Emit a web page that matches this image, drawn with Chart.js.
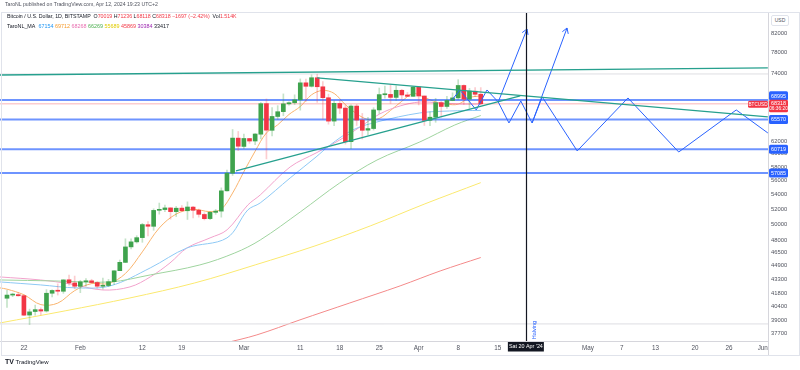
<!DOCTYPE html>
<html>
<head>
<meta charset="utf-8">
<script src="https://cdn.jsdelivr.net/npm/chart.js@4.4.1/dist/chart.umd.min.js"></script>
<style>
body { margin: 0; background: #fff; font-family: "Liberation Sans", Arial, sans-serif; }
#wrap { position: relative; width: 800px; height: 370px; overflow: hidden; }
#c { position: absolute; left: 0; top: 0; }
.t { position: absolute; white-space: nowrap; color: #131722; line-height: 1; }
.frame { position: absolute; left: 1px; top: 12px; width: 797px; height: 342px; border: 1px solid #e0e3eb; pointer-events: none; }
.usd { left: 771px; top: 15px; width: 16px; height: 9px; border: 1px solid #e0e3eb; border-radius: 2px; font-size: 5px; color: #50535e; text-align: center; line-height: 9px; background: #fff; }
</style>
</head>
<body>
<div id="wrap">
  <canvas id="c" width="800" height="370"></canvas>
  <div class="frame"></div>
  <div class="t" style="left:5px;top:2px;font-size:5.2px;color:#50535e">TaroNL published on TradingView.com, Apr 12, 2024 19:23 UTC+2</div>
  <div class="t" id="ohlc" style="left:7px;top:14px;font-size:5.25px"></div>
  <div class="t" id="malegend" style="left:7px;top:23.5px;font-size:5.4px"></div>
  <div class="t usd">USD</div>
  <div class="t" style="left:5px;top:358px;font-size:6px;color:#131722"><b style="font-size:7px">TV</b> TradingView</div>
</div>
<script>
// daily candles BTCUSD, day 0 = Jan 19 2024 ... day 84 = Apr 12 2024
var opens = [41278,41618,41665,41553,39519,39881,40075,39937,41815,42127,42030,43300,42946,
  42569,43077,43184,42994,42577,42657,43090,44332,45297,47153,47768,48297,49941,49734,51837,51937,52161,51661,52134,51779,52273,51854,51283,50737,51566,51730,54520,57071,62499,
  61168,62431,62031,63137,68341,63776,66100,66938,68299,68500,69020,72125,71483,73079,71388,69392,65317,68372,67556,61930,67911,65489,63802,64070,67234,69931,69992,69452,70744,69893,69647,
  71333,69705,65447,65975,68515,67840,68897,69362,71632,69140,70575,70019];
var highs = [42134,41819,41873,41651,40130,40555,40254,42209,42195,42842,43305,43838,43718,
  43244,43422,43359,43097,43494,43344,44341,45575,48152,48146,48535,50119,50358,52043,52820,52537,52191,52357,52485,52987,52372,52009,51499,51684,51950,54939,57537,63913,63585,
  63155,62458,63230,68537,69170,67637,67985,70083,68673,69916,72850,72825,73637,73750,72358,70044,68845,68898,68106,68115,68199,66623,65976,67622,71163,71535,71727,71546,70914,70355,71377,
  71342,69708,66914,69291,68725,69629,70284,72716,71742,71093,71256,71236];
var lows = [40297,41446,41500,39450,38555,39495,39545,39825,41431,41621,41805,42712,42298,
  41879,42585,42891,42374,42264,42529,42775,44332,45261,46906,47617,47714,48511,49226,51328,51641,50669,51010,51716,50626,50830,50926,50561,50586,51304,50931,54484,56738,60498,
  60802,61657,61435,62387,59224,62849,65602,66230,68054,68189,67194,68728,71335,68563,65630,64801,64545,66595,61536,60807,64581,62355,63038,63826,66615,69336,68381,68895,69076,69601,69624,
  68110,64586,64559,65113,66011,67492,68852,69040,68212,67503,69571,68118];
var closes = [41618,41665,41545,39508,39845,40077,39933,41816,42120,42035,43288,42952,42582,
  43075,43185,42992,42583,42658,43084,44318,45302,47147,47771,48293,49958,49742,51826,51938,52160,51663,52122,51780,52284,51839,51304,50731,51571,51733,54522,57085,62504,61198,
  62440,62029,63168,68330,63801,66106,66925,68300,68498,69019,72123,71481,73084,71396,69403,65315,68390,67548,61912,67913,65491,63778,64062,67234,69958,69987,69455,70744,69892,69645,71333,
  69702,65446,65980,68508,67837,68896,69362,71632,69139,70587,70015,68318];
var volume = '1.514K';

// moving averages (day, price)
var maOrangeDays = [-1.24,0,3,6,9,12,15,18,21,24,27,30,33,36,38,40,42,44,46,48,50,52,54,56,58,60,62,64,66,68,70,72,74,76,78,80,82,84];
var maOrangeVals = [42400,42260,41650,40600,40760,42100,42870,42880,44010,46550,49520,51340,51970,51660,52000,54210,57290,60420,63350,64690,66450,67830,69920,70720,70170,68150,66570,65590,65760,67140,68760,70150,69460,68640,68240,68240,69420,69712];
var maPinkDays = [-1.24,5.9,11.2,17,21.8,25.4,28.9,31.9,36,39,42.7,44.9,50.2,54.8,59,62.6,66.1,69.7,73.2,76.8,80.3,84];
var maPinkVals = [43620,43280,42840,42170,42510,43620,45230,47020,48260,49270,52560,53940,58000,60140,62200,64330,66540,67930,68630,68450,68270,68268];
var maBlueDays = [-1.24,5.9,12.4,18.3,25.4,31.9,39,42.7,44.9,50.2,54.8,57.3,61.3,65.6,73.2,78.5,84];
var maBlueVals = [43060,42730,42400,42620,44650,47020,48260,51890,52840,56370,59520,61400,63830,65170,66710,67050,67154];
var maGreenDays = [-1.24,8.5,18.3,25.4,34.2,40.4,44.9,52,59,65.6,73.2,79.4,84];
var maGreenVals = [43280,43170,43060,43850,45000,46420,48000,51620,55650,59050,61880,64660,66269];
var maYellowDays = [-1.24,10.3,21.8,33.3,44,54.6,64.4,74.1,84];
var maYellowVals = [38720,39950,41310,42950,45000,47270,49780,52710,55689];
var maRedDays = [38.65,44.3,51.95,60.8,69.7,76.8,84];
var maRedVals = [36750,37540,39030,40780,42620,44300,45869];
var maLegend = [67154, 69712, 68268, 66269, 55689, 45869, 30384, 33417];

// drawings
var levelPrices = [68995, 65570, 60719, 57085];
var grayLevels = [73800, 38620];
var tealFlatDays = [-1.24, 134.9], tealFlatVals = [73600, 74970];
var tealTopDays = [55.0, 134.9], tealTopVals = [73050, 66020];
var tealRiseDays = [40.6, 91.0], tealRiseVals = [57400, 69710];
var zigDays = [78.9,80.3,83.2,85.1,87.1,89.0,91.1,93.1,94.9,101.1,110.1,119.1,129.3,134.9];
var zigVals = [68990,70800,67230,70800,68630,65000,68810,65000,69530,60460,69350,60290,67230,63340];
var arrow1Days = [87.1, 92.2], arrow1Vals = [68630, 82920];
var arrow2Days = [93.1, 99.3], arrow2Vals = [65000, 83130];
var halvingDay = 92;
var halvingLabel = "Sat 20 Apr '24";

// axes
var xMin = -1.24, xMax = 134.93;
var yMin = 36950, yMax = 86650;
var xTickDays = [3,13,24,31,42,52,59,66,73,80,87,103,109,115,122,128,134];
var xTickLabels = ['22','Feb','12','19','Mar','11','18','25','Apr','8','15','May','7','13','20','26','Jun'];
var yTicks = [82000,78000,74000,70000,66000,62000,60000,58000,56000,54000,52000,50000,48000,46500,44900,43300,41800,40400,39000,37700];

var FONT = '"Liberation Sans", Arial, sans-serif';
Chart.defaults.font.family = FONT;

var last = closes.length - 1;
var lastPrice = closes[last];

// header text
var chg = lastPrice - closes[last - 1];
var pct = chg / closes[last - 1] * 100;
function red(s) { return '<span style="color:#f23645">' + s + '</span>'; }
function sgn(v, d) { return (v < 0 ? '\u2212' : '+') + Math.abs(v).toFixed(d); }
document.getElementById('ohlc').innerHTML = 'Bitcoin / U.S. Dollar, 1D, BITSTAMP&nbsp; O' + red(opens[last]) +
  ' H' + red(highs[last]) + ' L' + red(lows[last]) + ' C' + red(lastPrice) + ' ' +
  red(sgn(chg, 0) + ' (' + sgn(pct, 2) + '%)') + '&nbsp; Vol' + red(volume);
var legendColors = ['#2196f3','#f59a2b','#e86fb0','#4caf50','#e0cc00','#f23645','#9c27b0','#131722'];
document.getElementById('malegend').innerHTML = 'TaroNL_MA&nbsp; ' + maLegend.map(function(v, k) {
  return '<span style="color:' + legendColors[k] + '">' + v + '</span>';
}).join(' ');

function pts(days, vals) { return days.map(function(d, k) { return {x: d, y: vals[k]}; }); }
function lineDs(days, vals, color, width, order, smooth) {
  return {type: 'line', data: pts(days, vals), borderColor: color, borderWidth: width,
    pointRadius: 0, fill: false, tension: smooth ? 0.35 : 0, order: order};
}
function hLine(p, color, width, order) {
  return lineDs([xMin, xMax], [p, p], color, width, order, false);
}

var up = closes.map(function(c, k) { return c >= opens[k]; });
var datasets = [
  {type: 'bar', data: closes.map(function(c, k) { return {x: k, y: [opens[k], c]}; }),
   backgroundColor: up.map(function(u) { return u ? '#3fa34d' : '#f23645'; }),
   barThickness: 4, grouped: false, minBarLength: 1, order: 1},
  {type: 'bar', data: lows.map(function(l, k) { return {x: k, y: [l, highs[k]]}; }),
   backgroundColor: up.map(function(u) { return u ? 'rgba(63,163,77,0.3)' : 'rgba(242,54,69,0.25)'; }),
   barThickness: 1, grouped: false, order: 2},
  lineDs(maYellowDays, maYellowVals, '#fbe96f', 1, 4, true),
  lineDs(maRedDays, maRedVals, '#f48a8a', 1, 4, true),
  lineDs(maGreenDays, maGreenVals, '#9fd49f', 1, 4, true),
  lineDs(maBlueDays, maBlueVals, '#8ec9f5', 1, 4, true),
  lineDs(maPinkDays, maPinkVals, '#f2a2cc', 1, 4, true),
  lineDs(maOrangeDays, maOrangeVals, '#f9b46e', 1, 4, true),
  hLine(lastPrice, 'rgba(242,54,69,0.25)', 1.5, 3)
];
grayLevels.forEach(function(p) { datasets.push(hLine(p, '#dedee3', 1, 3)); });
levelPrices.forEach(function(p) { datasets.push(hLine(p, 'rgba(41,98,255,0.68)', 2, 3)); });
datasets.push(lineDs(tealFlatDays, tealFlatVals, '#26a08e', 1.3, 0, false));
datasets.push(lineDs(tealTopDays, tealTopVals, '#26a08e', 1.3, 0, false));
datasets.push(lineDs(tealRiseDays, tealRiseVals, '#26a08e', 1.3, 0, false));
datasets.push(lineDs(zigDays, zigVals, '#2962ff', 1, 0, false));
var a1 = lineDs(arrow1Days, arrow1Vals, '#2962ff', 1, 0, false); a1.arrow = true; datasets.push(a1);
var a2 = lineDs(arrow2Days, arrow2Vals, '#2962ff', 1, 0, false); a2.arrow = true; datasets.push(a2);

function box(ctx, x, y, w, h, bg) {
  ctx.fillStyle = bg;
  ctx.beginPath();
  if (ctx.roundRect) ctx.roundRect(x, y, w, h, 1.5); else ctx.rect(x, y, w, h);
  ctx.fill();
}

var overlay = {
  id: 'overlay',
  afterDatasetsDraw: function(chart) {
    var ctx = chart.ctx, xs = chart.scales.x, area = chart.chartArea;
    ctx.save();
    // arrowheads
    chart.data.datasets.forEach(function(ds, k) {
      if (!ds.arrow) return;
      var p = chart.getDatasetMeta(k).data;
      var a = p[p.length - 2], b = p[p.length - 1];
      var ang = Math.atan2(b.y - a.y, b.x - a.x);
      ctx.strokeStyle = ds.borderColor; ctx.lineWidth = 1;
      ctx.beginPath();
      [-0.55, 0.55].forEach(function(d) {
        ctx.moveTo(b.x, b.y);
        ctx.lineTo(b.x - 6 * Math.cos(ang + d), b.y - 6 * Math.sin(ang + d));
      });
      ctx.stroke();
    });
    // halving marker
    var hx = Math.round(xs.getPixelForValue(halvingDay)) + 0.5;
    ctx.strokeStyle = '#131722'; ctx.lineWidth = 1.2;
    ctx.beginPath(); ctx.moveTo(hx, area.top); ctx.lineTo(hx, area.bottom); ctx.stroke();
    ctx.translate(hx + 8, area.bottom - 11);
    ctx.rotate(-Math.PI / 2);
    ctx.fillStyle = '#2962ff'; ctx.font = '5.5px ' + FONT;
    ctx.textAlign = 'center'; ctx.textBaseline = 'middle';
    ctx.fillText('Halving', 0, 0);
    ctx.restore();
  },
  afterDraw: function(chart) {
    var ctx = chart.ctx, xs = chart.scales.x, ys = chart.scales.y, area = chart.chartArea;
    ctx.save();
    // separator under price axis
    ctx.strokeStyle = '#d6d6dc'; ctx.lineWidth = 1;
    ctx.beginPath(); ctx.moveTo(area.right + 0.5, area.bottom); ctx.lineTo(area.right + 0.5, 355); ctx.stroke();
    ctx.textAlign = 'center'; ctx.textBaseline = 'middle';
    var lx = area.right + 1, lw = 19;
    var lastY = ys.getPixelForValue(lastPrice);
    levelPrices.forEach(function(p) {
      var y = ys.getPixelForValue(p);
      if (Math.abs(y - lastY) < 9) y = lastY - 8;
      box(ctx, lx, y - 4.5, lw, 9, '#2962ff');
      ctx.fillStyle = '#fff'; ctx.font = '5.4px ' + FONT;
      ctx.fillText(String(p), lx + lw / 2, y + 0.3);
    });
    box(ctx, lx, lastY - 4, lw, 12.5, '#f23645');
    ctx.fillStyle = '#fff'; ctx.font = '5.4px ' + FONT;
    ctx.fillText(String(lastPrice), lx + lw / 2, lastY - 0.3);
    ctx.font = '4.8px ' + FONT;
    ctx.fillText('06:36:20', lx + lw / 2, lastY + 5);
    box(ctx, area.right - 20, lastY - 3, 20, 7, '#f23645');
    ctx.fillStyle = '#fff'; ctx.font = '4.6px ' + FONT;
    ctx.fillText('BTCUSD', area.right - 10, lastY + 0.5);
    // date tag on time axis
    var hx = xs.getPixelForValue(halvingDay);
    ctx.fillStyle = '#131722';
    ctx.fillRect(hx - 18, area.bottom + 1, 36, 9.5);
    ctx.fillStyle = '#fff'; ctx.font = '5.4px ' + FONT;
    ctx.fillText(halvingLabel, hx, area.bottom + 6);
    ctx.restore();
  }
};

new Chart(document.getElementById('c'), {
  type: 'bar',
  data: {datasets: datasets},
  options: {
    responsive: false,
    animation: false,
    devicePixelRatio: 1,
    layout: {padding: {top: 12, bottom: 15, left: 0, right: 0}},
    plugins: {legend: {display: false}, tooltip: {enabled: false}},
    scales: {
      x: {
        type: 'linear', min: xMin, max: xMax, offset: false,
        grid: {display: false, drawTicks: false},
        border: {display: true, color: '#d6d6dc'},
        afterBuildTicks: function(s) { s.ticks = xTickDays.map(function(v) { return {value: v}; }); },
        afterFit: function(s) { s.height = 14; },
        ticks: {
          autoSkip: false, maxRotation: 0, padding: 3, color: '#50535e', font: {size: 6.3},
          callback: function(v) { var k = xTickDays.indexOf(v); return k < 0 ? '' : xTickLabels[k]; }
        }
      },
      y: {
        type: 'logarithmic', position: 'right', min: yMin, max: yMax,
        grid: {display: false, drawTicks: false},
        border: {display: true, color: '#d6d6dc'},
        afterBuildTicks: function(s) { s.ticks = yTicks.map(function(v) { return {value: v}; }); },
        afterFit: function(s) { s.width = 32; },
        ticks: {
          autoSkip: false, padding: 3, color: '#50535e', font: {size: 5.8},
          callback: function(v) { return String(v); }
        }
      }
    }
  },
  plugins: [overlay]
});
</script>
</body>
</html>
